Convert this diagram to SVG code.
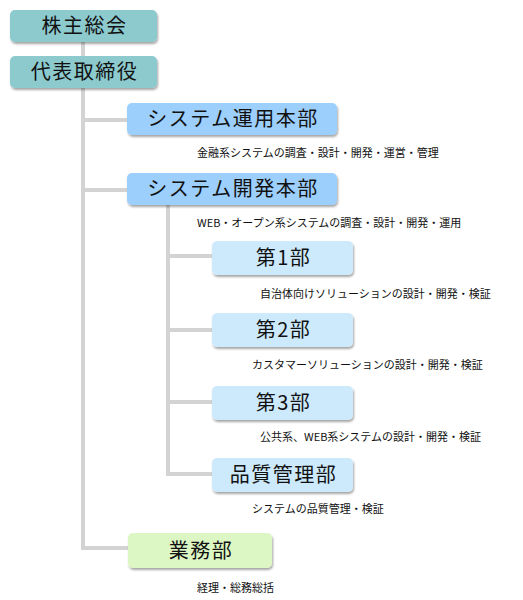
<svg xmlns="http://www.w3.org/2000/svg" width="523" height="600" viewBox="0 0 523 600">
<defs>
<filter id="sh" x="-10%" y="-20%" width="125%" height="160%">
<feDropShadow dx="1" dy="2" stdDeviation="1.2" flood-color="#000" flood-opacity="0.35"/>
</filter>
<style>
.conn{stroke:#d3d3d3;stroke-width:4;fill:none}
.box{filter:url(#sh)}
.teal{fill:#8ccace}
.blue{fill:#9dcffc}
.lblue{fill:#cdeafc}
.green{fill:#ddf7c4}
.t{font-family:"Noto Sans CJK JP","Liberation Sans",sans-serif;font-size:20px;fill:#111;text-anchor:middle;letter-spacing:1.5px}
.d{font-family:"Noto Sans CJK JP","Liberation Sans",sans-serif;font-size:11px;fill:#111}
</style>
</defs>
<rect width="523" height="600" fill="#fff"/>
<g id="connectors">
<path class="conn" d="M83 42V56"/>
<path class="conn" d="M83 88V548H128"/>
<path class="conn" d="M83 120H128"/>
<path class="conn" d="M83 190H128"/>
<path class="conn" d="M168 205V474H212"/>
<path class="conn" d="M168 256H212"/>
<path class="conn" d="M168 330H212"/>
<path class="conn" d="M168 402H212"/>
</g>
<g id="n1"><rect class="box teal" x="10" y="10" width="147" height="32" rx="5"/><text class="t" x="84.5" y="33">株主総会</text></g>
<g id="n2"><rect class="box teal" x="10" y="56" width="147" height="32" rx="5"/><text class="t" x="84.5" y="79">代表取締役</text></g>
<g id="n3"><rect class="box blue" x="127" y="103" width="210" height="32" rx="5"/><text class="t" x="233" y="126">システム運用本部</text>
<text class="d" x="197" y="157">金融系システムの調査・設計・開発・運営・管理</text></g>
<g id="n4"><rect class="box blue" x="127" y="173" width="210" height="32" rx="5"/><text class="t" x="233" y="196">システム開発本部</text>
<text class="d" x="197" y="227">WEB・オープン系システムの調査・設計・開発・運用</text></g>
<g id="n5"><rect class="box lblue" x="212" y="241" width="141" height="34" rx="5"/><text class="t" x="283.5" y="265">第1部</text>
<text class="d" x="260" y="298">自治体向けソリューションの設計・開発・検証</text></g>
<g id="n6"><rect class="box lblue" x="212" y="313" width="141" height="34" rx="5"/><text class="t" x="283.5" y="337">第2部</text>
<text class="d" x="252" y="369">カスタマーソリューションの設計・開発・検証</text></g>
<g id="n7"><rect class="box lblue" x="212" y="386" width="141" height="34" rx="5"/><text class="t" x="283.5" y="410">第3部</text>
<text class="d" x="260" y="441">公共系、WEB系システムの設計・開発・検証</text></g>
<g id="n8"><rect class="box lblue" x="212" y="458" width="141" height="34" rx="5"/><text class="t" x="283.5" y="482">品質管理部</text>
<text class="d" x="252" y="513">システムの品質管理・検証</text></g>
<g id="n9"><rect class="box green" x="128" y="533" width="144" height="35" rx="5"/><text class="t" x="201" y="558">業務部</text>
<text class="d" x="197" y="592">経理・総務総括</text></g>
</svg>
